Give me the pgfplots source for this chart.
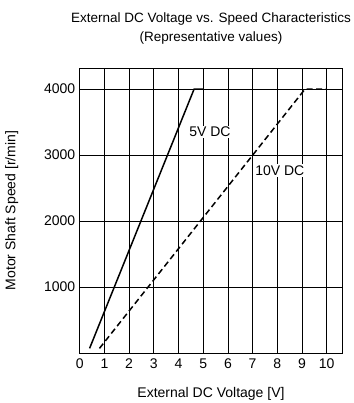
\documentclass[border=0pt]{standalone}
\usepackage{fontspec}
\setmainfont{Liberation Sans}
\usepackage{pgfplots}
\pgfplotsset{compat=1.18}
\begin{document}
\begin{tikzpicture}
\begin{axis}[
  at={(0pt,0pt)}, anchor=south west,
  scale only axis, width=262.6pt, height=285pt,
  xmin=0, xmax=10.63, ymin=0, ymax=4320,
  xtick={0,1,...,10}, ytick={1000,2000,3000,4000},
  major tick length=0pt,
  grid=major, major grid style={black, line width=0.7pt},
  axis line style={black, line width=0.8pt},
  /pgf/number format/assume math mode=true,
  /pgf/number format/1000 sep={},
  tick label style={font=\fontsize{14}{15}\selectfont},
  xticklabel style={yshift=-2pt},
  yticklabel style={xshift=-1pt},
  xlabel={External DC Voltage [V]},
  ylabel={Motor Shaft Speed [r/min]},
  label style={font=\fontsize{14}{15}\selectfont},
  xlabel style={yshift=-12pt},
  ylabel style={yshift=19pt},
  title={External DC Voltage vs. Speed Characteristics\\(Representative values)},
  title style={font=\fontsize{13.5}{19}\selectfont, align=center, yshift=14pt},
  clip=false,
]
\addplot[black, line width=1.5pt] coordinates {(0.4,70) (4.63,4000) (5.0,4000)};
\addplot[black, line width=1.5pt, dash pattern=on 6pt off 3.5pt] coordinates {(0.8,70) (9.12,4000) (10.0,4000)};
\node[fill=white, inner sep=1.5pt, font=\fontsize{14}{15}\selectfont] at (axis cs:5.27,3350) {5V DC};
\node[fill=white, inner sep=1.5pt, font=\fontsize{14}{15}\selectfont] at (axis cs:8.1,2770) {10V DC};
\end{axis}
\pgfresetboundingbox
\path (-79.7pt,-50pt) rectangle (273.3pt,353pt);
\end{tikzpicture}
\end{document}
